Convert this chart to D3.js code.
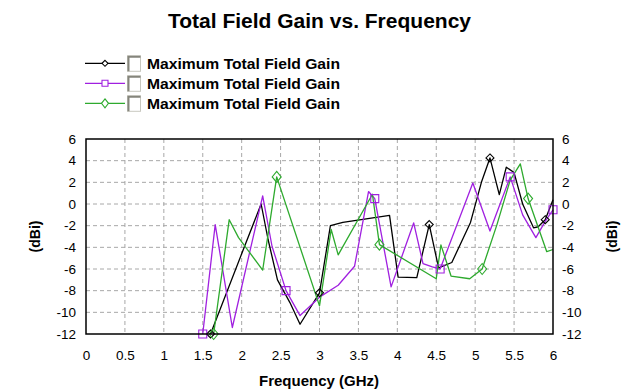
<!DOCTYPE html>
<html>
<head>
<meta charset="utf-8">
<script src="https://cdn.jsdelivr.net/npm/d3@7"></script>
<style>
  html, body { margin: 0; padding: 0; background: #fff; }
  svg { display: block; font-family: "Liberation Sans", Arial, sans-serif; }
</style>
</head>
<body>
<svg id="chart" width="623" height="391"></svg>
<script>
// Frequency (GHz) / gain (dBi) samples for each trace
const blackFreq = [1.6, 2.0, 2.25, 2.34, 2.46, 2.62, 2.75, 3.0, 3.14, 3.3, 3.9, 4.01, 4.25, 4.41, 4.53, 4.7, 4.94, 5.08, 5.19, 5.31, 5.4, 5.5, 5.61, 5.75, 5.81, 5.9, 6.0];
const blackGain = [-12, -4.6, 0, -3.3, -7.0, -9.1, -11.1, -8.2, -2.0, -1.7, -1.05, -6.75, -6.8, -1.9, -5.9, -5.4, -1.7, 2.0, 4.25, 0.86, 3.4, 2.9, 0.0, -2.2, -2.1, -1.45, 0.4];
const blackMarks = [1.6, 3.0, 4.41, 5.19, 5.9];

const purpleFreq = [1.5, 1.66, 1.88, 2.27, 2.39, 2.57, 2.75, 3.0, 3.24, 3.45, 3.63, 3.71, 3.92, 4.21, 4.33, 4.45, 4.55, 4.97, 5.19, 5.45, 5.61, 5.78, 5.9, 6.0];
const purpleGain = [-12, -1.9, -11.4, 0.75, -3.9, -8.0, -10.3, -8.6, -7.5, -5.75, 1.15, 0.5, -7.65, -1.75, -5.5, -5.8, -6.0, 1.94, -2.5, 2.5, -1.0, -3.1, -1.6, -0.53];
const purpleMarks = [1.5, 2.57, 3.71, 4.55, 5.45, 6.0];

const greenFreq = [1.64, 1.84, 1.96, 2.27, 2.45, 3.0, 3.15, 3.24, 3.68, 3.77, 4.5, 4.56, 4.69, 4.93, 5.09, 5.28, 5.45, 5.58, 5.68, 5.92, 6.0];
const greenGain = [-12, -1.45, -3.1, -6.1, 2.5, -9.4, -2.35, -4.7, 0.9, -3.75, -6.9, -3.77, -6.65, -6.9, -6.0, -1.9, 2.2, 3.7, 0.5, -4.4, -4.2];
const greenMarks = [1.64, 2.45, 3.77, 5.09, 5.68];

const xTicks = [0, 0.5, 1, 1.5, 2, 2.5, 3, 3.5, 4, 4.5, 5, 5.5, 6];
const yTicks = [-12, -10, -8, -6, -4, -2, 0, 2, 4, 6];

const seriesNames = ["Maximum Total Field Gain", "Maximum Total Field Gain", "Maximum Total Field Gain"];

const series = [
  { name: seriesNames[0], freq: blackFreq, gain: blackGain, marks: blackMarks, color: "#000000", shape: "diamond", w: 4, h: 4 },
  { name: seriesNames[1], freq: purpleFreq, gain: purpleGain, marks: purpleMarks, color: "#a020e0", shape: "square", w: 4, h: 4 },
  { name: seriesNames[2], freq: greenFreq, gain: greenGain, marks: greenMarks, color: "#2eaa2e", shape: "diamond", w: 4.5, h: 5.5 }
];

const svg = d3.select("#chart");
const plot = { left: 86, right: 553, top: 139, bottom: 334 };

const x = d3.scaleLinear().domain([0, 6]).range([plot.left, plot.right]);
const y = d3.scaleLinear().domain([-12, 6]).range([plot.bottom, plot.top]);

// Title
svg.append("text")
  .attr("x", 168).attr("y", 28)
  .attr("font-size", 20).attr("font-weight", "bold")
  .attr("textLength", 303).attr("lengthAdjust", "spacingAndGlyphs")
  .text("Total Field Gain vs. Frequency");

// Grid
const grid = svg.append("g").attr("stroke", "#a8a8a8").attr("stroke-dasharray", "4,3").attr("stroke-width", 1);
xTicks.slice(1, -1).forEach(t => {
  grid.append("line").attr("x1", x(t)).attr("x2", x(t)).attr("y1", plot.top).attr("y2", plot.bottom);
});
yTicks.slice(1, -1).forEach(t => {
  grid.append("line").attr("x1", plot.left).attr("x2", plot.right).attr("y1", y(t)).attr("y2", y(t));
});

// Axes (labels only; frame drawn separately)
const axisFont = g => {
  g.select(".domain").remove();
  g.selectAll(".tick line").remove();
  g.selectAll("text").attr("font-size", 13.5).attr("fill", "#000").attr("font-family", "'Liberation Sans', Arial, sans-serif");
};
const fmt = d => d < 0 ? "-" + Math.abs(d) : String(d);
svg.append("g").attr("transform", `translate(0,${plot.bottom})`)
  .call(d3.axisBottom(x).tickValues(xTicks).tickFormat(d3.format("")).tickSize(0).tickPadding(16))
  .call(axisFont);
svg.append("g").attr("transform", `translate(${plot.left},0)`)
  .call(d3.axisLeft(y).tickValues(yTicks).tickFormat(fmt).tickSize(0).tickPadding(10))
  .call(axisFont);
svg.append("g").attr("transform", `translate(${plot.right},0)`)
  .call(d3.axisRight(y).tickValues(yTicks).tickFormat(fmt).tickSize(0).tickPadding(9))
  .call(axisFont);

// Axis titles
svg.append("text")
  .attr("x", 319).attr("y", 386)
  .attr("text-anchor", "middle").attr("font-size", 15).attr("font-weight", "bold")
  .text("Frequency (GHz)");
svg.append("text")
  .attr("transform", `translate(40,${(plot.top + plot.bottom) / 2}) rotate(-90)`)
  .attr("text-anchor", "middle").attr("font-size", 14).attr("font-weight", "bold")
  .text("(dBi)");
svg.append("text")
  .attr("transform", `translate(617,${(plot.top + plot.bottom) / 2}) rotate(-90)`)
  .attr("text-anchor", "middle").attr("font-size", 14).attr("font-weight", "bold")
  .text("(dBi)");

const line = d3.line().x(d => x(d[0])).y(d => y(d[1]));

function markerPath(shape, w, h) {
  if (shape === "square") return `M${-w},${-h}H${w}V${h}H${-w}Z`;
  return `M0,${-h}L${w},0L0,${h}L${-w},0Z`;
}

const traces = svg.append("g");
series.forEach(sr => {
  const pts = sr.freq.map((f, i) => [f, sr.gain[i]]);
  traces.append("path")
    .datum(pts)
    .attr("fill", "none")
    .attr("stroke", sr.color)
    .attr("stroke-width", 1.3)
    .attr("stroke-linejoin", "round")
    .attr("d", line);
});
series.forEach(sr => {
  const pts = sr.freq.map((f, i) => [f, sr.gain[i]]).filter(p => sr.marks.includes(p[0]));
  traces.selectAll(null)
    .data(pts)
    .join("path")
    .attr("transform", d => `translate(${x(d[0])},${y(d[1])})`)
    .attr("d", markerPath(sr.shape, sr.w, sr.h))
    .attr("fill", "none")
    .attr("stroke", sr.color)
    .attr("stroke-width", 1.1);
});

// Frame
svg.append("rect")
  .attr("x", plot.left).attr("y", plot.top)
  .attr("width", plot.right - plot.left).attr("height", plot.bottom - plot.top)
  .attr("fill", "none").attr("stroke", "#000").attr("stroke-width", 1.5);

// Legend
const legend = svg.append("g");
series.forEach((sr, i) => {
  const yy = 63.3 + i * 20;
  const row = legend.append("g").attr("transform", `translate(0,${yy})`);
  row.append("line").attr("x1", 85).attr("x2", 125).attr("y1", 0).attr("y2", 0)
    .attr("stroke", sr.color).attr("stroke-width", 1.3);
  row.append("path").attr("transform", "translate(105,0)")
    .attr("d", markerPath(sr.shape, sr.w - 1, sr.h - 1))
    .attr("fill", "#fff").attr("stroke", sr.color).attr("stroke-width", 1.1);
  // checkbox
  row.append("rect").attr("x", 127.5).attr("y", -7.5).attr("width", 13).attr("height", 15.5)
    .attr("fill", "#fff").attr("stroke", "#c8c8c0").attr("stroke-width", 1);
  row.append("path").attr("d", "M128.5,8V-6.5H140.5").attr("fill", "none").attr("stroke", "#85857c").attr("stroke-width", 2);
  row.append("text").attr("x", 147).attr("y", 5.5)
    .attr("font-size", 15).attr("font-weight", "bold")
    .attr("textLength", 193).attr("lengthAdjust", "spacingAndGlyphs")
    .text(sr.name);
});
</script>
</body>
</html>
